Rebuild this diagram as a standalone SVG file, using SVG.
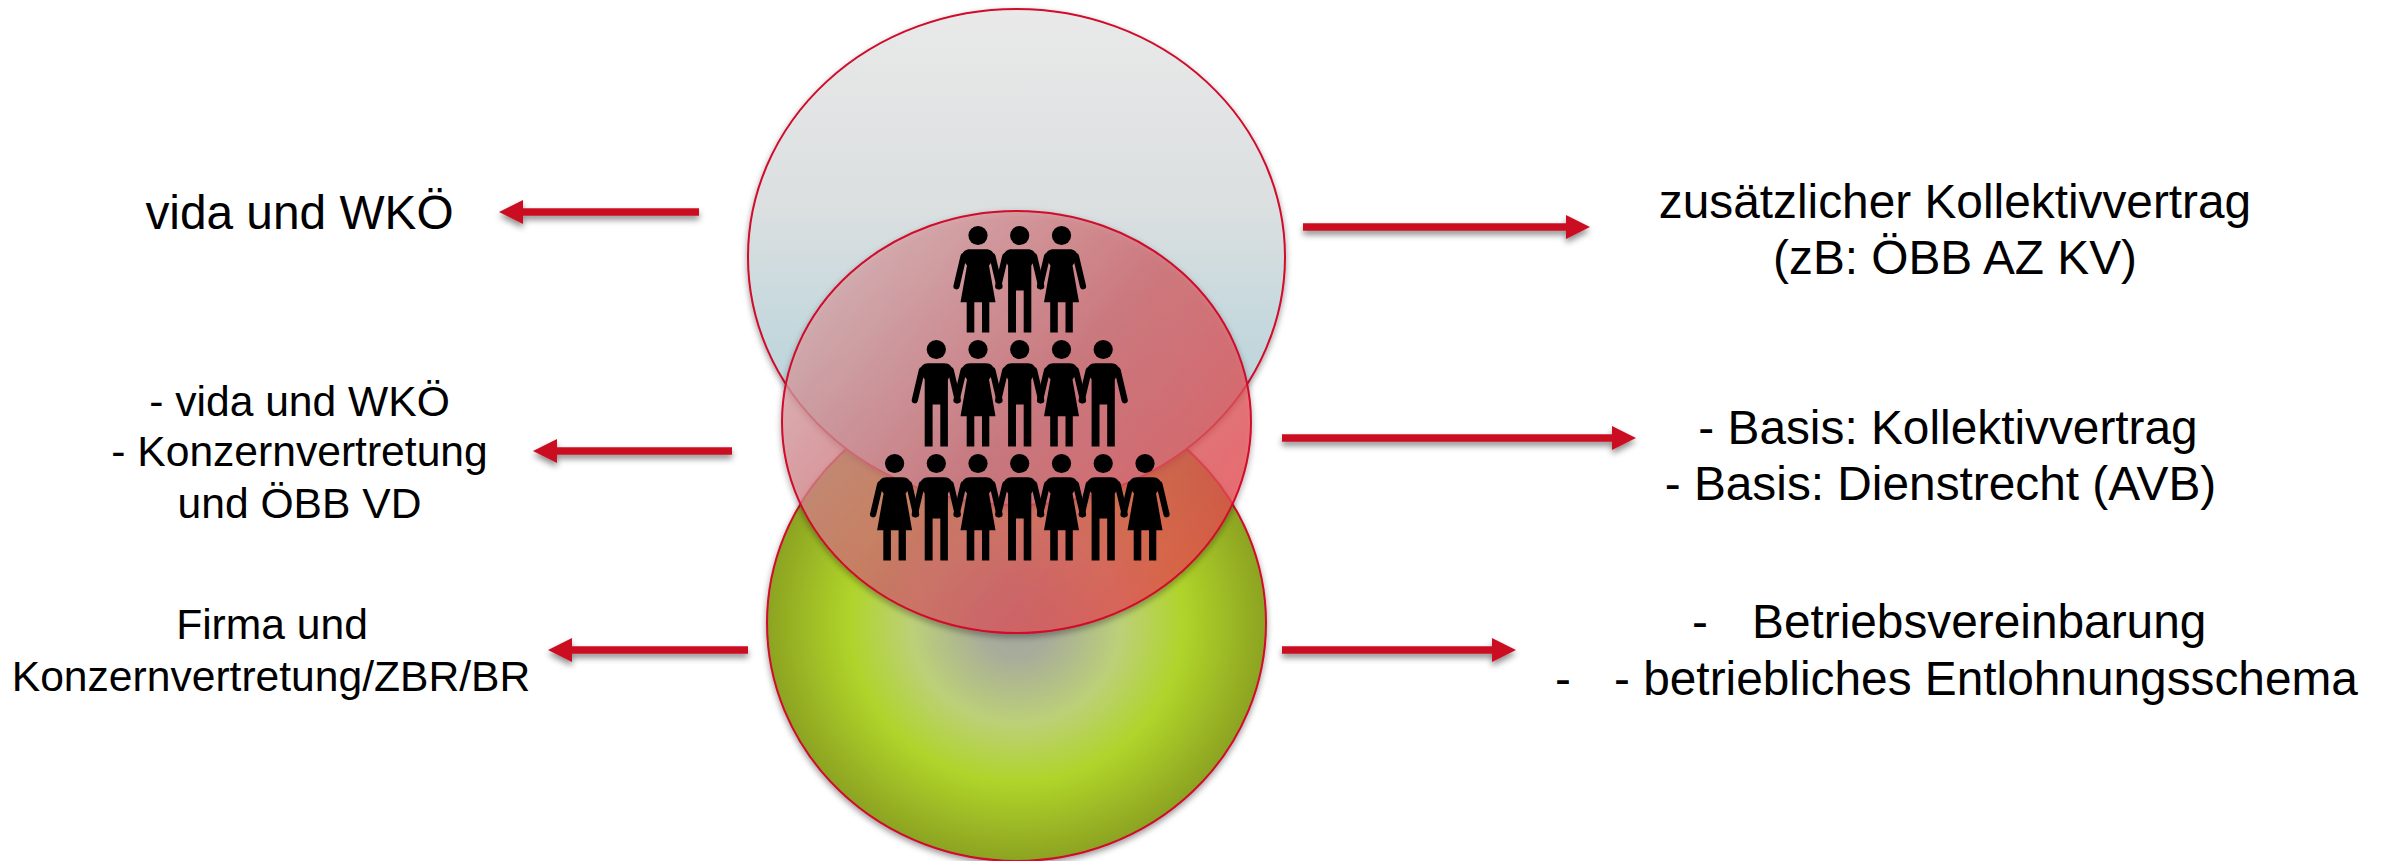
<svg xmlns="http://www.w3.org/2000/svg" width="2387" height="861" viewBox="0 0 2387 861">
<style>
text{font-family:"Liberation Sans",Arial,sans-serif;fill:#000}
.a{text-anchor:middle}
.l{font-size:47.8px}
.m{font-size:42.6px}
.c{stroke:#cf0a2c;stroke-width:2}
.arrow{fill:#cb0a24}
.arm{stroke:#000;stroke-width:6.2;stroke-linecap:round;fill:none}
</style>
<defs>
<filter id="sh" x="-10%" y="-10%" width="120%" height="120%"><feDropShadow dx="0" dy="3" stdDeviation="3" flood-color="#000" flood-opacity=".4"/></filter>
<filter id="sa" x="-10%" y="-100%" width="120%" height="300%"><feDropShadow dx="0" dy="4" stdDeviation="3" flood-color="#000" flood-opacity=".45"/></filter>
<linearGradient id="gt" gradientUnits="userSpaceOnUse" x1="0" y1="9" x2="0" y2="505"><stop offset="0" stop-color="#e9e9e9"/><stop offset=".4" stop-color="#dbdfe0"/><stop offset=".65" stop-color="#c4d8dd"/><stop offset=".85" stop-color="#b8d3da"/><stop offset="1" stop-color="#b5d2da"/></linearGradient>
<linearGradient id="gm" gradientUnits="userSpaceOnUse" x1="830" y1="280" x2="1200" y2="590"><stop offset="0" stop-color="#dca8ac"/><stop offset=".5" stop-color="#d5666c"/><stop offset="1" stop-color="#ee4a4e"/></linearGradient>
<radialGradient id="gb" gradientUnits="userSpaceOnUse" cx="0" cy="0" r="1" gradientTransform="translate(1016.5 623) scale(249.5 238)"><stop offset="0" stop-color="#a2a59e"/><stop offset=".15" stop-color="#a8ad9a"/><stop offset=".42" stop-color="#bcd078"/><stop offset=".67" stop-color="#b0d42a"/><stop offset="1" stop-color="#8ca322"/></radialGradient>
<g id="w"><circle cx="0" cy="0" r="9.6"/><path d="M-8 13.7H8C13 13.7 16 17 17 22L11 30L17.5 66.7H11.3V97H4V66.7H-3.7V97H-11.3V66.7H-17.5L-11 30L-17 22C-16 17 -13 13.7 -8 13.7Z"/><path class="arm" d="M14.5 21L21.5 50.8M-14.5 21L-21.5 50.8"/></g>
<g id="p"><circle cx="0" cy="0" r="9.6"/><path d="M-8 13.7H8C13 13.7 16 17 17 22L11.6 30V97H4V55H-3.7V97H-11.6V30L-17 22C-16 17 -13 13.7 -8 13.7Z"/><path class="arm" d="M14.5 21L21.5 50.8M-14.5 21L-21.5 50.8"/></g>
</defs>
<g id="circle-bottom"><ellipse class="c" cx="1016.5" cy="623" rx="249.5" ry="238" fill="url(#gb)" filter="url(#sh)"/></g>
<g id="circle-top"><ellipse class="c" cx="1016.5" cy="257" rx="268.5" ry="248" fill="url(#gt)" filter="url(#sh)"/></g>
<g id="circle-middle"><ellipse class="c" cx="1016.5" cy="422" rx="234.5" ry="211" fill="url(#gm)" fill-opacity=".72" filter="url(#sh)"/></g>
<g id="people">
<use href="#w" x="978" y="235.5"/><use href="#p" x="1019.7" y="235.5"/><use href="#w" x="1061.5" y="235.5"/>
<use href="#p" x="936.3" y="349.5"/><use href="#w" x="978" y="349.5"/><use href="#p" x="1019.7" y="349.5"/><use href="#w" x="1061.5" y="349.5"/><use href="#p" x="1103.2" y="349.5"/>
<use href="#w" x="894.6" y="463.5"/><use href="#p" x="936.3" y="463.5"/><use href="#w" x="978" y="463.5"/><use href="#p" x="1019.7" y="463.5"/><use href="#w" x="1061.5" y="463.5"/><use href="#p" x="1103.2" y="463.5"/><use href="#w" x="1145" y="463.5"/>
</g>
<g id="connectors">
<path class="arrow" filter="url(#sa)" d="M699 208.2V215.8H523V224L499 212L523 200V208.2Z"/>
<path class="arrow" filter="url(#sa)" d="M1303 223.2V230.8H1566V239L1590 227L1566 215V223.2Z"/>
<path class="arrow" filter="url(#sa)" d="M732 447.2V454.8H557V463L533 451L557 439V447.2Z"/>
<path class="arrow" filter="url(#sa)" d="M1282 434.2V441.8H1612V450L1636 438L1612 426V434.2Z"/>
<path class="arrow" filter="url(#sa)" d="M748 646.2V653.8H572V662L548 650L572 638V646.2Z"/>
<path class="arrow" filter="url(#sa)" d="M1282 646.2V653.8H1492V662L1516 650L1492 638V646.2Z"/>
</g>
<g id="label-l1"><text class="l a" x="299.5" y="228.5">vida und WKÖ</text></g>
<g id="label-l2"><text class="m a" x="299.5" y="416">- vida und WKÖ</text><text class="m a" x="299.5" y="466">- Konzernvertretung</text><text class="m a" x="299.5" y="517.5">und ÖBB VD</text></g>
<g id="label-l3"><text class="m a" x="272" y="639">Firma und</text><text class="m a" x="271" y="690.5">Konzernvertretung/ZBR/BR</text></g>
<g id="label-r1"><text class="l a" x="1955" y="217.5">zusätzlicher Kollektivvertrag</text><text class="l a" x="1955" y="274">(zB: ÖBB AZ KV)</text></g>
<g id="label-r2"><text class="l a" x="1948" y="444">- Basis: Kollektivvertrag</text><text class="l a" x="1940.5" y="500">- Basis: Dienstrecht (AVB)</text></g>
<g id="label-r3"><text class="l" x="1692" y="637.5">-</text><text class="l" x="1752" y="637.5">Betriebsvereinbarung</text><text class="l" x="1555" y="695">-</text><text class="l" x="1614" y="695">- betriebliches Entlohnungsschema</text></g>
</svg>
